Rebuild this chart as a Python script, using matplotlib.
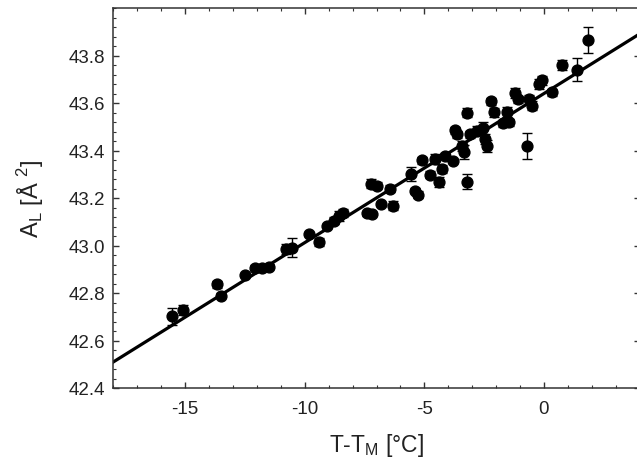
import numpy as np
import matplotlib
matplotlib.use("Agg")
import matplotlib.pyplot as plt
from matplotlib.ticker import MultipleLocator, FixedLocator

plt.rcParams['font.family'] = ['Liberation Sans', 'DejaVu Sans']
plt.rcParams['mathtext.fontset'] = 'custom'
plt.rcParams['mathtext.rm'] = 'Liberation Sans'
plt.rcParams['axes.unicode_minus'] = False

# T - T_M [°C]
temp = [-15.56, -15.10, -13.65, -13.50, -12.49, -12.08, -11.80, -11.48, -10.79, -10.53,
        -9.81, -9.40, -9.08, -8.78, -8.55, -8.39, -7.40, -7.19, -7.23, -6.99,
        -6.81, -6.44, -6.30, -5.56, -5.39, -5.25, -5.10, -4.76, -4.55, -4.38,
        -4.26, -4.14, -3.79, -3.64, -3.70, -3.44, -3.34, -3.23, -3.23, -3.09,
        -2.81, -2.54, -2.47, -2.39, -2.21, -2.09, -1.70, -1.55, -1.48, -1.22,
        -1.07, -0.73, -0.63, -0.51, -0.21, -0.10, 0.35, 0.77, 1.37, 1.82]
# area per lipid A_L [Å^2]
area = [42.702, 42.728, 42.837, 42.789, 42.876, 42.907, 42.907, 42.911, 42.985, 42.991,
        43.048, 43.015, 43.082, 43.104, 43.125, 43.137, 43.135, 43.133, 43.261, 43.252,
        43.175, 43.240, 43.168, 43.301, 43.231, 43.213, 43.358, 43.298, 43.364, 43.267,
        43.322, 43.378, 43.356, 43.469, 43.486, 43.419, 43.394, 43.269, 43.560, 43.469,
        43.484, 43.495, 43.448, 43.420, 43.608, 43.561, 43.515, 43.563, 43.519, 43.642,
        43.615, 43.419, 43.615, 43.589, 43.680, 43.695, 43.646, 43.761, 43.741, 43.867]
area_err = [0.035, 0.02, 0.015, 0.01, 0.01, 0.01, 0.01, 0.01, 0.02, 0.04,
            0.01, 0.015, 0.01, 0.015, 0.02, 0.015, 0.01, 0.01, 0.02, 0.015,
            0.01, 0.015, 0.02, 0.03, 0.01, 0.015, 0.015, 0.015, 0.02, 0.02,
            0.015, 0.01, 0.01, 0.015, 0.015, 0.02, 0.03, 0.03, 0.02, 0.015,
            0.02, 0.025, 0.02, 0.025, 0.015, 0.02, 0.015, 0.02, 0.015, 0.02,
            0.015, 0.055, 0.02, 0.02, 0.02, 0.02, 0.015, 0.02, 0.05, 0.055]
ytick_vals = [42.4, 42.6, 42.8, 43.0, 43.2, 43.4, 43.6, 43.8]

# linear fit A_L = a0 + a1 * (T - T_M)
fit_a0 = 43.64
fit_a1 = 0.0628

fig = plt.figure(figsize=(6.37, 4.64), dpi=100)
ax = fig.add_axes([113.3 / 637, 1 - 389 / 464, (639.7 - 113.3) / 637, 380 / 464])

xfit = np.array([-18, 4])
ax.plot(xfit, fit_a0 + fit_a1 * xfit, color='black', lw=2.3, zorder=2)
ax.errorbar(temp, area, yerr=area_err, fmt='o', color='black', ms=7.8,
            elinewidth=1.0, capsize=3.5, capthick=1.0, zorder=3)

ax.set_xlim(-18, 4)
ax.set_ylim(42.4, 44.0)
ax.xaxis.set_major_locator(MultipleLocator(5))
ax.xaxis.set_minor_locator(MultipleLocator(1))
ax.yaxis.set_major_locator(FixedLocator(ytick_vals))
ax.yaxis.set_minor_locator(MultipleLocator(0.04))
ax.yaxis.set_major_formatter(matplotlib.ticker.FormatStrFormatter('%.1f'))
ax.tick_params(which='both', direction='in', top=True, right=True, color='#333333',
               labelsize=13.5, labelcolor='#222222')
ax.tick_params(which='major', length=4.5, width=1.0)
ax.tick_params(which='minor', length=2.3, width=0.8)
ax.tick_params(axis='x', pad=9)
ax.tick_params(axis='y', pad=6)
for s in ax.spines.values():
    s.set_linewidth(1.1)
    s.set_color('#333333')

ax.set_xlabel(r'T-T$_\mathregular{M}$ [°C]', fontsize=16.5, color='#222222', labelpad=10)
ax.set_ylabel(r'A$_\mathregular{L}$ [Å $^\mathregular{2}$]', fontsize=17, color='#222222', labelpad=16)

fig.savefig('out.png', dpi=100)
